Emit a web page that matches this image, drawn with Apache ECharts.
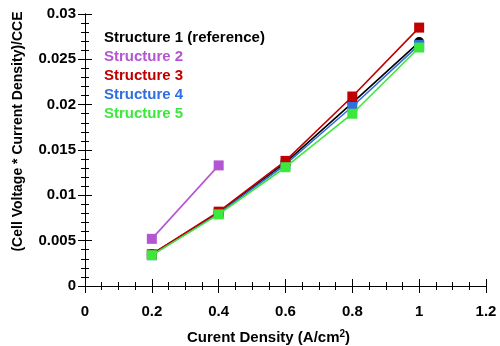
<!DOCTYPE html>
<html><head><meta charset="utf-8">
<script src="https://cdn.jsdelivr.net/npm/echarts@6/dist/echarts.min.js"></script>
<style>html,body{margin:0;padding:0;background:#fff}#c{width:500px;height:346px}</style>
</head><body><div id="c"></div>
<script>
const xValues = [0.2, 0.4, 0.6, 0.8, 1.0];
const structure1 = [0.0035, 0.0081, 0.0136, 0.0202, 0.0269];
const structure2 = [0.0052, 0.0133];
const structure3 = [0.0035, 0.0082, 0.0138, 0.0209, 0.0285];
const structure4 = [0.0034, 0.0080, 0.0134, 0.0198, 0.0266];
const structure5 = [0.0034, 0.0079, 0.0131, 0.0190, 0.0263];
const seriesNames = ['Structure 1 (reference)', 'Structure 2', 'Structure 3', 'Structure 4', 'Structure 5'];
const xTicks = [0, 0.2, 0.4, 0.6, 0.8, 1, 1.2];
const yTicks = [0, 0.005, 0.01, 0.015, 0.02, 0.025, 0.03];

const colors = ['#000000', '#b455d4', '#c00000', '#2f6fe0', '#3de83d'];
const values = [structure1, structure2, structure3, structure4, structure5];
const symbols = ['circle', 'rect', 'rect', 'rect', 'rect'];
const FONT = '"Liberation Sans", Arial, sans-serif';

function pairs(vals) { return vals.map((v, i) => [xValues[i], v]); }

const order = [0, 3, 2, 1, 4];
const series = order.map(i => ({
  name: seriesNames[i],
  type: 'line',
  data: pairs(values[i]),
  symbol: symbols[i],
  symbolSize: 10,
  lineStyle: { color: colors[i], width: 1.6 },
  itemStyle: { color: colors[i] },
  z: 2 + order.indexOf(i),
  animation: false
}));

const tickCommon = {
  axisLine: { show: true, lineStyle: { color: '#000', width: 1 } },
  axisTick: { show: true, inside: true, length: 7, lineStyle: { color: '#000' } },
  splitLine: { show: false }
};
const labelStyle = { color: '#000', fontFamily: FONT, fontWeight: 'bold', fontSize: 15 };

const option = {
  animation: false,
  grid: { left: 85, right: 14, top: 14, bottom: 60, outerBoundsMode: 'none', containLabel: false },
  legend: {
    orient: 'vertical', left: 94, top: 25,
    itemWidth: 0, itemHeight: 0, itemGap: 4,
    icon: 'none',
    selectedMode: false,
    data: seriesNames.map((n, i) => ({ name: n, icon: 'none', textStyle: { color: colors[i] } })),
    textStyle: { fontFamily: FONT, fontWeight: 'bold', fontSize: 15, lineHeight: 14 }
  },
  xAxis: [{
    type: 'value', min: 0, max: 1.2, interval: 0.2, position: 'bottom',
    ...tickCommon,
    minorTick: { show: true, splitNumber: 4, length: 4, lineStyle: { color: '#000' } },
    axisLabel: { ...labelStyle, margin: 18, formatter: v => {
      const t = xTicks.find(k => Math.abs(k - v) < 1e-9); return t === undefined ? '' : String(t); } },
    name: 'Curent Density (A/cm{sup|2})',
    nameLocation: 'middle', nameGap: 43,
    nameTextStyle: { ...labelStyle, padding: [0, 34, 0, 0],
      rich: { sup: { fontFamily: FONT, fontWeight: 'bold', fontSize: 10, verticalAlign: 'top', padding: [0, 0, 8, 0] } } }
  }, {
    type: 'value', min: 0, max: 1.2, interval: 0.2, position: 'top',
    ...tickCommon,
    minorTick: { show: true, splitNumber: 4, length: 4, lineStyle: { color: '#000' } },
    axisLabel: { show: false }
  }],
  yAxis: [{
    type: 'value', min: 0, max: 0.03, interval: 0.005, position: 'left',
    ...tickCommon,
    minorTick: { show: true, splitNumber: 5, length: 4, lineStyle: { color: '#000' } },
    axisLabel: { ...labelStyle, margin: 9, formatter: v => {
      const t = yTicks.find(k => Math.abs(k - v) < 1e-9); return t === undefined ? '' : String(t); } },
    name: '(Cell Voltage * Current Density)/CCE',
    nameLocation: 'middle', nameGap: 60,
    nameTextStyle: { ...labelStyle, fontSize: 14, padding: [0, 0, 0, 37] }
  }, {
    type: 'value', min: 0, max: 0.03, interval: 0.005, position: 'right',
    ...tickCommon,
    minorTick: { show: true, splitNumber: 5, length: 4, lineStyle: { color: '#000' } },
    axisLabel: { show: false }
  }],
  series: series
};
const chart = echarts.init(document.getElementById('c'), null, { renderer: 'canvas' });
chart.setOption(option);
</script></body></html>
